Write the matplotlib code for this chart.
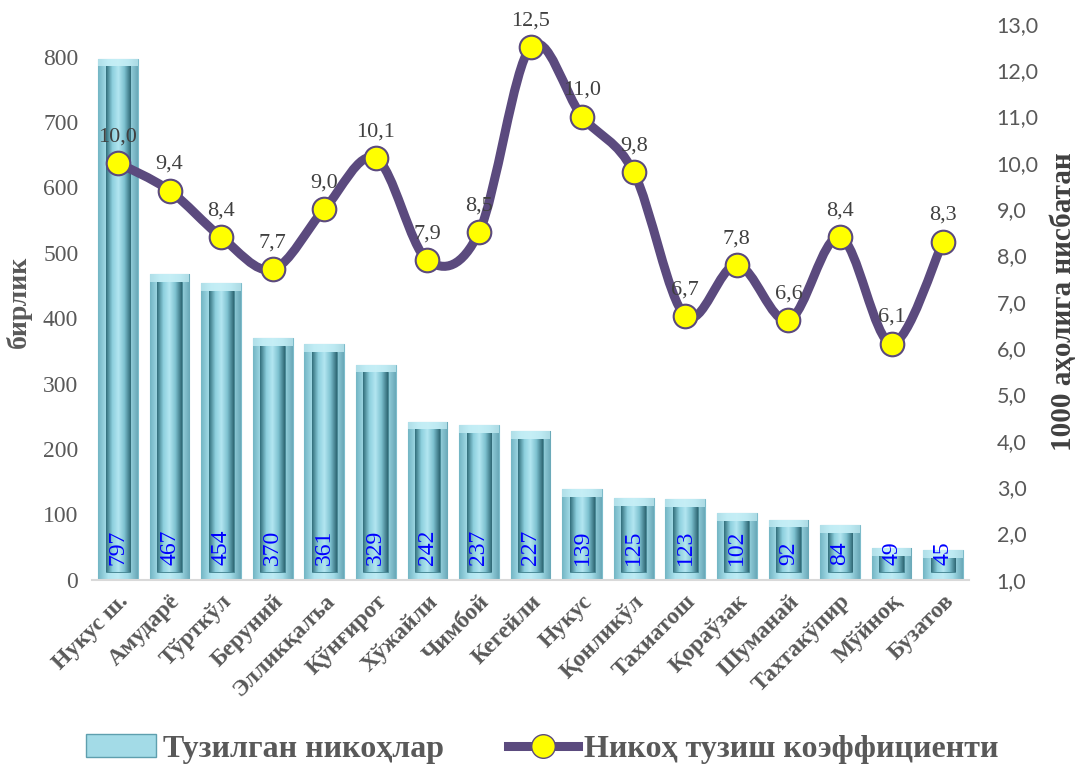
import matplotlib.pyplot as plt
import numpy as np
from matplotlib.path import Path
from matplotlib.patches import PathPatch, Patch
from matplotlib.colors import LinearSegmentedColormap
from matplotlib.lines import Line2D

# данные
tumanlar = ['Нукус ш.', 'Амударё', 'Тўрткўл', 'Беруний', 'Элликқалъа', 'Қўнғирот',
            'Хўжайли', 'Чимбой', 'Кегейли', 'Нукус', 'Қонликўл', 'Тахиатош',
            'Қораўзак', 'Шуманай', 'Тахтакўпир', 'Мўйноқ', 'Бузатов']
nikohlar = [797, 467, 454, 370, 361, 329, 242, 237, 227, 139, 125, 123, 102, 92, 84, 49, 45]
koef = [10.0, 9.4, 8.4, 7.7, 9.0, 10.1, 7.9, 8.5, 12.5, 11.0, 9.8, 6.7, 7.8, 6.6, 8.4, 6.1, 8.3]

serif = 'Liberation Serif'
grey = '#595959'

fig = plt.figure(figsize=(10.85, 7.71), dpi=100)
ax = fig.add_axes([0.085, 0.248, 0.808, 0.721])
ax2 = ax.twinx()

x = np.arange(len(tumanlar))
w_out, w_in = 0.77, 0.48
d = 12  # глубина фаски

outer_cm = LinearSegmentedColormap.from_list('o', ['#74b6c5', '#aee4ef', '#bdebf4', '#a3dbe7', '#6aa9b8'])
inner_cm = LinearSegmentedColormap.from_list('i', ['#336f7c', '#8ccfdd', '#b3e6f1', '#7cc0cf', '#2f6875'])
grad = np.linspace(0, 1, 64).reshape(1, -1)

bars_out = ax.bar(x, nikohlar, width=w_out, color='#a3dbe7', edgecolor='#7dbccb', lw=0.8, zorder=2)
inner_h = [v - 2 * d for v in nikohlar]
bars_in = ax.bar(x, inner_h, bottom=d, width=w_in, color='#7cc0cf', edgecolor='#3f7f8c', lw=0.6, zorder=3)
# светлая верхняя фаска
ax.bar(x, d, bottom=[v - d for v in nikohlar], width=w_out, color='#c9f0f7', alpha=0.7, lw=0, zorder=2.5)

for b in bars_out:
    im = ax.imshow(grad, extent=[b.get_x(), b.get_x() + b.get_width(), 0, b.get_height()],
                   aspect='auto', cmap=outer_cm, zorder=2.1)
    im.set_clip_path(b)
for b in bars_in:
    im = ax.imshow(grad, extent=[b.get_x(), b.get_x() + b.get_width(), b.get_y(), b.get_y() + b.get_height()],
                   aspect='auto', cmap=inner_cm, zorder=3.1)
    im.set_clip_path(b)

for xi, v in zip(x, nikohlar):
    ax.text(xi, 22, str(v), rotation=90, ha='center', va='bottom', color='#0000ff',
            family=serif, fontsize=17, zorder=5)

ax.set_xlim(-0.5, len(tumanlar) - 0.5)
ax.set_ylim(0, 850)
ax.set_yticks(range(0, 801, 100))
ax.tick_params(axis='y', length=0, labelsize=17, labelcolor=grey, pad=10)
for t in ax.get_yticklabels():
    t.set_family(serif)
ax.set_xticks(x)
ax.set_xticklabels(tumanlar, rotation=45, ha='right', rotation_mode='anchor',
                   family=serif, fontweight='bold', fontsize=17, color=grey)
ax.tick_params(axis='x', length=0, pad=8)
ax.set_ylabel('бирлик', family=serif, fontweight='bold', fontsize=20, color=grey, labelpad=8)

for s in ['top', 'right', 'left']:
    ax.spines[s].set_visible(False)
    ax2.spines[s].set_visible(False)
ax2.spines['bottom'].set_visible(False)
ax.spines['bottom'].set_color('#d9d9d9')
ax.spines['bottom'].set_linewidth(1.5)

# сглаженная линия (кривые Безье как в Excel)
pts = np.column_stack([x, koef]).astype(float)
verts = [pts[0]]
codes = [Path.MOVETO]
n = len(pts)
for i in range(n - 1):
    p0 = pts[max(i - 1, 0)]
    p1 = pts[i]
    p2 = pts[i + 1]
    p3 = pts[min(i + 2, n - 1)]
    verts += [p1 + (p2 - p0) / 6, p2 - (p3 - p1) / 6, p2]
    codes += [Path.CURVE4] * 3
line_col = '#5b4a7e'
ax2.add_patch(PathPatch(Path(verts, codes), fill=False, edgecolor=line_col, lw=6.5, zorder=4,
                        capstyle='round', joinstyle='round'))
ax2.plot(x, koef, linestyle='none', marker='o', markersize=17, markerfacecolor='#ffff00',
         markeredgecolor=line_col, markeredgewidth=1.5, zorder=5)
for xi, v in zip(x, koef):
    ax2.annotate(f'{v:.1f}'.replace('.', ','), (xi, v), xytext=(0, 12), textcoords='offset points',
                 ha='center', va='bottom', family=serif, fontsize=16, color='#404040', zorder=6)

ax2.set_ylim(1.0, 13.0)
ax2.set_yticks(np.arange(1, 13.5, 1.0))
ax2.set_yticklabels([f'{v:.1f}'.replace('.', ',') for v in np.arange(1, 13.5, 1.0)],
                    family='Lato', fontsize=15.5, color=grey)
ax2.tick_params(axis='y', length=0, pad=20)
ax2.set_ylabel('1000 аҳолига нисбатан', family=serif, fontweight='bold', fontsize=21,
               color='#404040', labelpad=8)
ax2.set_xlim(-0.5, len(tumanlar) - 0.5)

handles = [Patch(facecolor='#a3dbe7', edgecolor='#5e9fae'),
           Line2D([], [], color=line_col, lw=6.5, marker='o', markersize=17,
                  markerfacecolor='#ffff00', markeredgecolor=line_col)]
fig.legend(handles, ['Тузилган никоҳлар', 'Никоҳ тузиш коэффициенти'], loc='lower center',
           bbox_to_anchor=(0.5, -0.028), ncol=2, frameon=False, handlelength=2.2, handletextpad=0.2,
           columnspacing=2.0, prop={'family': serif, 'weight': 'bold', 'size': 23}, labelcolor=grey)

fig.savefig('out.png', dpi=100)
